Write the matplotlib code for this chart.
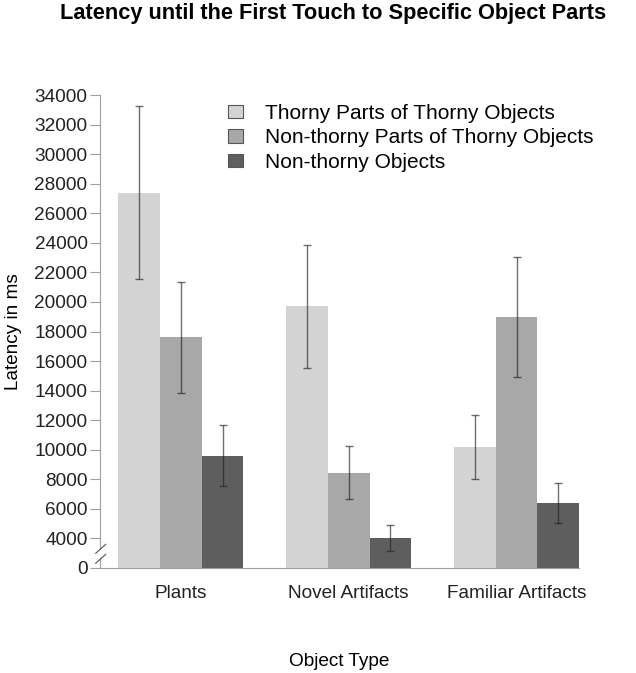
import numpy as np
import matplotlib
matplotlib.use("Agg")
import matplotlib.pyplot as plt
from matplotlib.patches import Patch
from matplotlib.lines import Line2D

plt.rcParams['font.family'] = ['Liberation Sans', 'DejaVu Sans']

categories = ["Plants", "Novel Artifacts", "Familiar Artifacts"]
series_names = ["Thorny Parts of Thorny Objects",
                "Non-thorny Parts of Thorny Objects",
                "Non-thorny Objects"]
thorny_parts = [27400, 19700, 10200]
thorny_parts_err = [5850, 4180, 2180]
nonthorny_parts = [17600, 8450, 19000]
nonthorny_parts_err = [3750, 1800, 4050]
nonthorny_objects = [9600, 4010, 6400]
nonthorny_objects_err = [2050, 870, 1375]
y_ticks = [0] + list(range(4000, 34001, 2000))

colors = ["#d3d3d3", "#a8a8a8", "#5e5e5e"]
values = [thorny_parts, nonthorny_parts, nonthorny_objects]
errors = [thorny_parts_err, nonthorny_parts_err, nonthorny_objects_err]

# broken axis: the 0-3000 range is compressed to a third
def fwd(v):
    v = np.asarray(v, dtype=float)
    return np.where(v >= 3000, v, 2000 + v / 3.0)

def inv(y):
    y = np.asarray(y, dtype=float)
    return np.where(y >= 3000, y, (y - 2000) * 3.0)

fig = plt.figure(figsize=(6.36, 6.73), dpi=100)
ax = fig.add_axes([100 / 636, 105 / 673, 479 / 636, 473 / 673])
ax.set_yscale('function', functions=(fwd, inv))

x = np.arange(len(categories))
w = 0.248
for i, (vals, errs, c) in enumerate(zip(values, errors, colors)):
    ax.bar(x + (i - 1) * w, vals, width=w, color=c, edgecolor='none', zorder=2)
    ax.errorbar(x + (i - 1) * w, vals, yerr=errs, fmt='none', ecolor='#222222',
                alpha=0.65, elinewidth=1, capsize=3, capthick=1, zorder=3)

ax.set_xlim(-0.482, 2.372)
ax.set_ylim(0, 34000)
ax.set_yticks(y_ticks)
ax.set_yticklabels([str(t) for t in y_ticks])
ax.yaxis.set_minor_locator(matplotlib.ticker.NullLocator())
ax.set_xticks(x)
ax.set_xticklabels(categories)

for s in ['top', 'right']:
    ax.spines[s].set_visible(False)
spine_col = '#a0a0a0'
ax.spines['bottom'].set_color(spine_col)
ax.spines['left'].set_color(spine_col)
ax.spines['left'].set_bounds(3290, 34000)
# lower piece of the left axis below the break
ax.plot([0, 0], [0, 2030], transform=ax.get_yaxis_transform(), color=spine_col,
        lw=0.8, clip_on=False, zorder=5)
# break marks
for y0 in (0.0099, 0.0311):
    ax.add_line(Line2D([-0.009, 0.0119], [y0, y0 + 0.019], transform=ax.transAxes,
                       color='#555555', lw=0.8, clip_on=False, zorder=5))

ax.tick_params(axis='y', length=7, width=0.8, color=spine_col, labelsize=13.7,
               labelcolor='#222222', pad=2)
ax.tick_params(axis='x', length=0, labelsize=13.7, labelcolor='#222222', pad=12)

ax.set_ylabel("Latency in ms", fontsize=13.7, labelpad=9)
ax.set_xlabel("Object Type", fontsize=13.7, labelpad=37)
fig.suptitle("Latency until the First Touch to Specific Object Parts",
             fontsize=15.7, fontweight='bold', x=333 / 636, y=1 - 14 / 673, va='center')

handles = [Patch(facecolor=c, edgecolor='#555555', linewidth=0.8) for c in colors]
ax.legend(handles, series_names, loc='upper left', frameon=False, fontsize=15,
          bbox_to_anchor=(228 / 636, 1 - 104 / 673), bbox_transform=fig.transFigure,
          handlelength=0.72, handleheight=0.63, handletextpad=1.05, labelspacing=0.26,
          borderaxespad=0, borderpad=0)

fig.savefig("out.png", dpi=100)
